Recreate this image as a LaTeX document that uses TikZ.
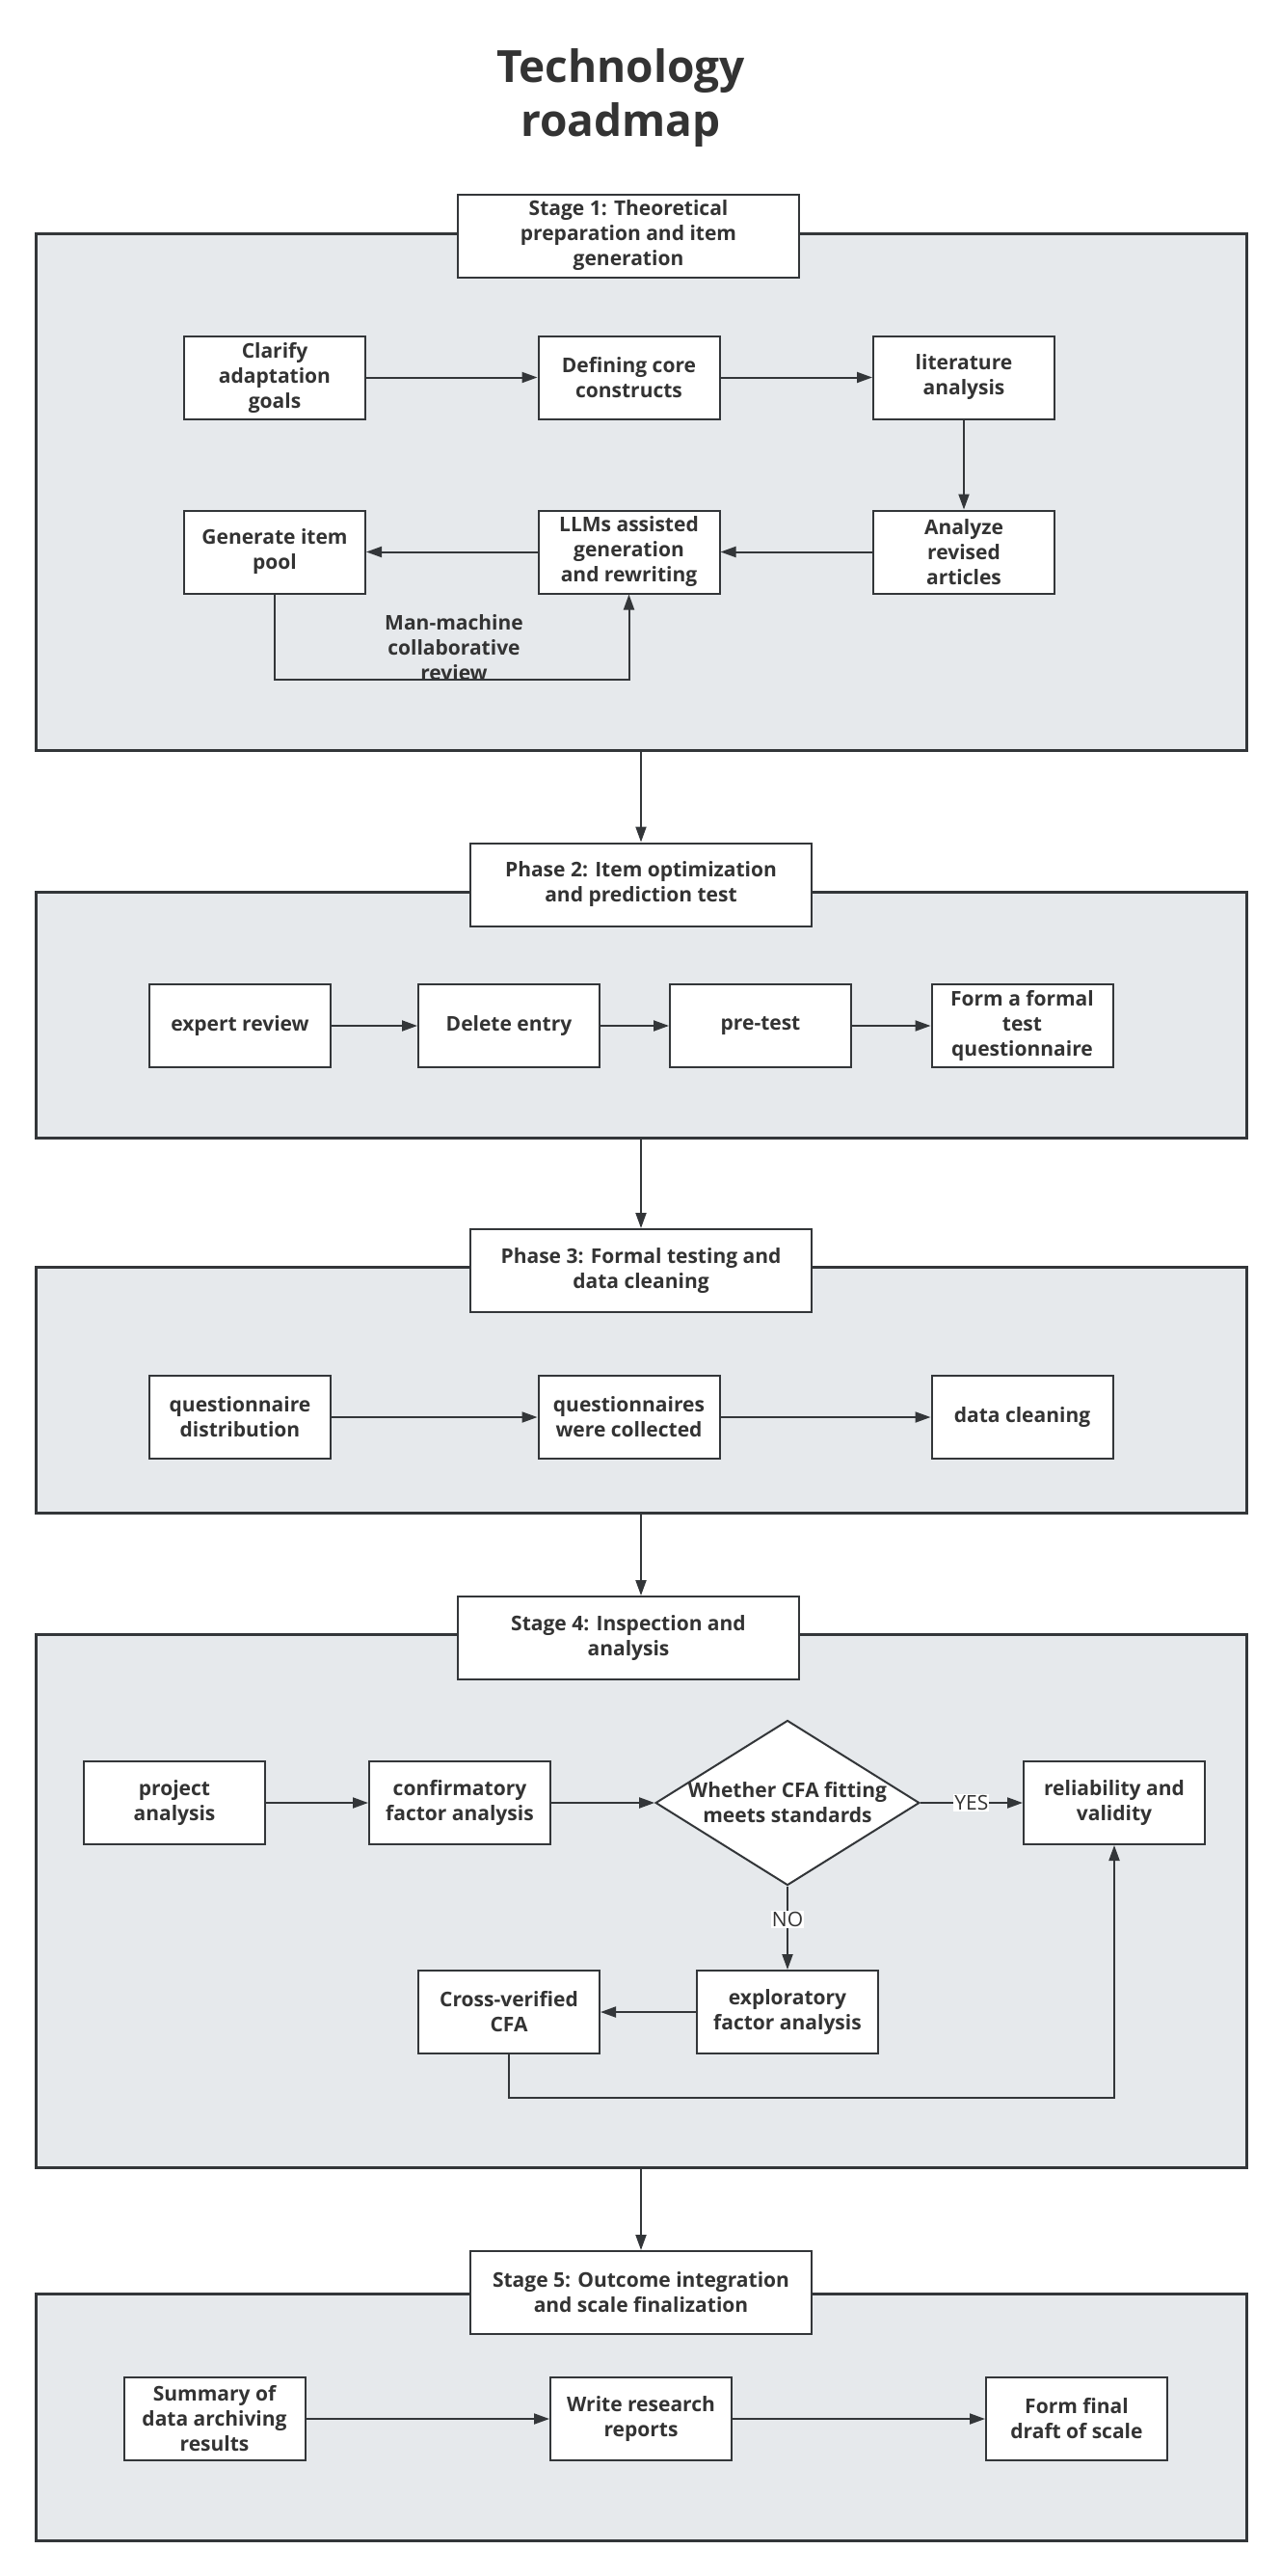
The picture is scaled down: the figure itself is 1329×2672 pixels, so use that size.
\documentclass[tikz,border=0pt]{standalone}
\usepackage{fontspec}
\setmainfont{Open Sans}
\usetikzlibrary{shapes.geometric,arrows.meta}
\definecolor{linegray}{HTML}{333639}
\definecolor{framefill}{HTML}{E6E9EC}
\definecolor{textgray}{HTML}{333333}
\begin{document}
\begin{tikzpicture}[x=1pt,y=-1pt,
  every node/.style={text=textgray, font=\fontsize{21}{26}\selectfont\bfseries, align=center},
  stagebox/.style={draw=linegray, line width=3pt, fill=framefill, minimum width=1256pt, inner sep=0pt},
  headbox/.style={draw=linegray, line width=2pt, fill=white, minimum width=354pt, minimum height=86pt, inner sep=0pt},
  itembox/.style={draw=linegray, line width=2pt, fill=white, minimum width=188pt, minimum height=86pt, inner sep=0pt},
  decision/.style={draw=linegray, line width=2pt, fill=white, diamond, aspect=1.6, minimum width=271pt, minimum height=170pt, inner sep=0pt},
  flow/.style={draw=linegray, line width=2pt, -{Triangle[length=16pt,width=11pt]}},
  answer/.style={fill=white, font=\fontsize{21}{24}\selectfont, inner sep=1pt}]
\useasboundingbox (0,0) rectangle (1329,2672);
\node[font=\fontsize{46}{56}\selectfont\bfseries] (title) at (644,102) {Technology\\roadmap};
% stage frames
\node[stagebox, minimum height=536pt] (f1) at (665,510) {};
\node[stagebox, minimum height=255pt] (f2) at (665,1053) {};
\node[stagebox, minimum height=255pt] (f3) at (665,1441.5) {};
\node[stagebox, minimum height=553pt] (f4) at (665,1971.5) {};
\node[stagebox, minimum height=256pt] (f5) at (665,2507) {};
\node[headbox] (h1) at (652,244.5) {Stage 1: Theoretical\\preparation and item\\generation};
\node[headbox] (h2) at (665,917.5) {Phase 2: Item optimization\\and prediction test};
\node[headbox] (h3) at (665,1318) {Phase 3: Formal testing and\\data cleaning};
\node[headbox] (h4) at (652,1699) {Stage 4: Inspection and\\analysis};
\node[headbox] (h5) at (665,2378) {Stage 5: Outcome integration\\and scale finalization};
\draw[flow] (f1.south) -- (h2.north);
\draw[flow] (f2.south) -- (h3.north);
\draw[flow] (f3.south) -- (h4.north -| f3.south);
\draw[flow] (f4.south) -- (h5.north);
% stage 1
\node[itembox] (s1a) at (285,391.5) {Clarify\\adaptation\\goals};
\node[itembox] (s1b) at (652.5,391.5) {Defining core\\constructs};
\node[itembox] (s1c) at (1000,391.5) {literature\\analysis};
\node[itembox] (s1d) at (1000,572.5) {Analyze\\revised\\articles};
\node[itembox] (s1e) at (652.5,572.5) {LLMs assisted\\generation\\and rewriting};
\node[itembox] (s1f) at (285,572.5) {Generate item\\pool};
\node (review) at (471,672) {Man-machine\\collaborative\\review};
\draw[flow] (s1a) -- (s1b);
\draw[flow] (s1b) -- (s1c);
\draw[flow] (s1c) -- (s1d);
\draw[flow] (s1d) -- (s1e);
\draw[flow] (s1e) -- (s1f);
\draw[flow] (s1f.south) -- ++(0,88.5) -| (s1e.south);
% stage 2
\node[itembox] (e1) at (249,1064) {expert review};
\node[itembox] (e2) at (528,1064) {Delete entry};
\node[itembox] (e3) at (789,1064) {pre-test};
\node[itembox] (e4) at (1060.5,1064) {Form a formal\\test\\questionnaire};
\draw[flow] (e1) -- (e2);
\draw[flow] (e2) -- (e3);
\draw[flow] (e3) -- (e4);
% stage 3
\node[itembox] (q1) at (249,1470) {questionnaire\\distribution};
\node[itembox] (q2) at (652.5,1470) {questionnaires\\were collected};
\node[itembox] (q3) at (1060.5,1470) {data cleaning};
\draw[flow] (q1) -- (q2);
\draw[flow] (q2) -- (q3);
% stage 4
\node[itembox] (p1) at (181,1870) {project\\analysis};
\node[itembox] (p2) at (477,1870) {confirmatory\\factor analysis};
\node[decision] (p3) at (817,1870) {Whether CFA fitting\\meets standards};
\node[itembox] (p4) at (1156,1870) {reliability and\\validity};
\node[itembox] (p5) at (817,2087) {exploratory\\factor analysis};
\node[itembox] (p6) at (528,2087) {Cross-verified\\CFA};
\draw[flow] (p1) -- (p2);
\draw[flow] (p2) -- (p3);
\draw[flow] (p3) -- node[answer] {YES} (p4);
\draw[flow] (p3) -- node[answer, pos=0.4] {NO} (p5);
\draw[flow] (p5) -- (p6);
\draw[flow] (p6.south) -- ++(0,45) -| (p4.south);
% stage 5
\node[itembox] (r1) at (222.5,2509) {Summary of\\data archiving\\results};
\node[itembox] (r2) at (665,2509) {Write research\\reports};
\node[itembox] (r3) at (1117,2509) {Form final\\draft of scale};
\draw[flow] (r1) -- (r2);
\draw[flow] (r2) -- (r3);
\end{tikzpicture}
\end{document}
